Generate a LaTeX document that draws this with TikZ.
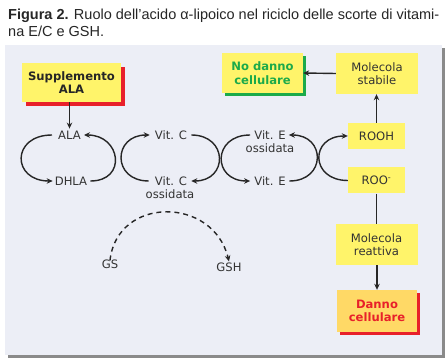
\documentclass[tikz,border=0pt]{standalone}
\usepackage{fontspec}
\setmainfont{DejaVu Sans}
\newfontfamily\titlefont{Liberation Sans}
\usetikzlibrary{arrows.meta}
\definecolor{panelbg}{HTML}{ECEEF6}
\definecolor{panelsh}{HTML}{8A8A8A}
\definecolor{boxy}{HTML}{FFF46A}
\definecolor{boxo}{HTML}{FFD966}
\definecolor{redc}{HTML}{E8202A}
\definecolor{greenc}{HTML}{1BAA4A}
\definecolor{txt}{HTML}{333333}
\tikzset{
  x=1pt, y=-1pt,
  lbl/.style={font=\fontsize{11.6}{13}\selectfont, text=txt, inner sep=2pt},
  ybox/.style={fill=boxy, minimum width=82pt, minimum height=41pt, align=center,
    font=\fontsize{11.6}{13.5}\selectfont, text=txt, inner sep=0pt},
  sbox/.style={fill=boxy, minimum width=57pt, minimum height=26pt,
    font=\fontsize{11.6}{13}\selectfont, text=txt, inner sep=0pt},
  arr/.style={line width=1.4pt, draw=black!85, -{Stealth[length=6pt,width=5.5pt]}},
  ln/.style={line width=1.4pt, draw=black!85},
}
\begin{document}
\begin{tikzpicture}
\useasboundingbox (0,0) rectangle (445,358);
\fill[white] (0,0) rectangle (445,358);
% title
\node[anchor=base west, inner sep=0pt, font=\titlefont\fontsize{14.5}{16}\selectfont, text=black!85] (t1) at (8,20)
  {\textbf{Figura 2.} Ruolo dell’acido α-lipoico nel riciclo delle scorte di vitami-};
\node[anchor=base west, inner sep=0pt, font=\titlefont\fontsize{14.5}{16}\selectfont, text=black!85] (t2) at (8,37)
  {na E/C e GSH.};
% panel
\fill[panelsh] (8,48) rectangle (445,358);
\fill[panelbg] (5,45) rectangle (442,355);
% boxes with shadows
\fill[redc] (26,67) rectangle (125,106);
\node[ybox, minimum width=99pt, minimum height=39pt, font=\bfseries\fontsize{11.6}{13.5}\selectfont, text=black!85] (supp) at (71.5,82.5) {Supplemento\\ALA};
\fill[greenc] (225,56) rectangle (306,96);
\node[ybox, minimum width=81pt, minimum height=40pt, font=\bfseries\fontsize{11.6}{13.5}\selectfont, text=greenc] (nod) at (262.5,73) {No danno\\cellulare};
\node[ybox] (mstab) at (377,73.5) {Molecola\\stabile};
\node[sbox] (rooh) at (376.5,136) {ROOH};
\node[sbox] (roo) at (376.5,180.5) {ROO\textsuperscript{-}};
\node[ybox] (mreat) at (376.5,244.5) {Molecola\\reattiva};
\fill[redc] (340,293) rectangle (420,335);
\node[ybox, fill=boxo, minimum width=80pt, minimum height=42pt, font=\bfseries\fontsize{11.6}{13.5}\selectfont, text=redc] (danno) at (377,311) {Danno\\cellulare};
% labels
\node[lbl] (ala) at (69.5,135) {ALA};
\node[lbl] (dhla) at (71,181) {DHLA};
\node[lbl] (vc) at (171,135) {Vit. C};
\node[lbl] (vcox) at (171,181) {Vit. C};
\node[lbl] (vcoxb) at (170,194.5) {ossidata};
\node[lbl] (veox) at (270,135) {Vit. E};
\node[lbl] (veoxb) at (270,148.5) {ossidata};
\node[lbl] (ve) at (270,181) {Vit. E};
\node[lbl] (gs) at (110,264) {GS};
\node[lbl] (gsh) at (229,267) {GSH};
% straight arrows
\draw[arr] (supp.south -| ala.north) -- (ala.north);
\draw[arr] (mstab.west) -- (nod.east);
\draw[arr] (rooh.north) -- (mstab.south -| rooh.north);
\draw[ln] (roo.south) -- (mreat.north -| roo.south);
\draw[arr] (mreat.south -| danno.north) -- (danno.north);
% curved arrows
\draw[arr] ([xshift=-4pt]ala.west) .. controls +(-41,0) and +(-41,0) .. (dhla.west);
\draw[arr] ([xshift=1pt]dhla.east) .. controls +(37,0) and +(37,0) .. ([xshift=1pt]ala.east);
\draw[arr] ([xshift=-4pt]vcox.west) .. controls +(-37,0) and +(-37,0) .. ([xshift=-3pt]vc.west);
\draw[arr] ([xshift=2pt]vc.east) .. controls +(37,0) and +(37,0) .. ([xshift=2pt]vcox.east);
\draw[arr] ([xshift=-2pt]veox.west) .. controls +(-38,0) and +(-38,0) .. ([xshift=-2pt]ve.west);
\draw[arr] ([xshift=1.5pt]ve.east) .. controls +(37,0) and +(37,0) .. ([xshift=1pt]veox.east);
\draw[arr] (roo.west) .. controls +(-38,0) and +(-38,0) .. (rooh.west);
% dashed
\draw[arr, dashed, dash pattern=on 5pt off 4pt] ([yshift=-3pt]gs.north) .. controls (117,196) and (213,196) .. ([yshift=-1pt]gsh.north);
\end{tikzpicture}
\end{document}
